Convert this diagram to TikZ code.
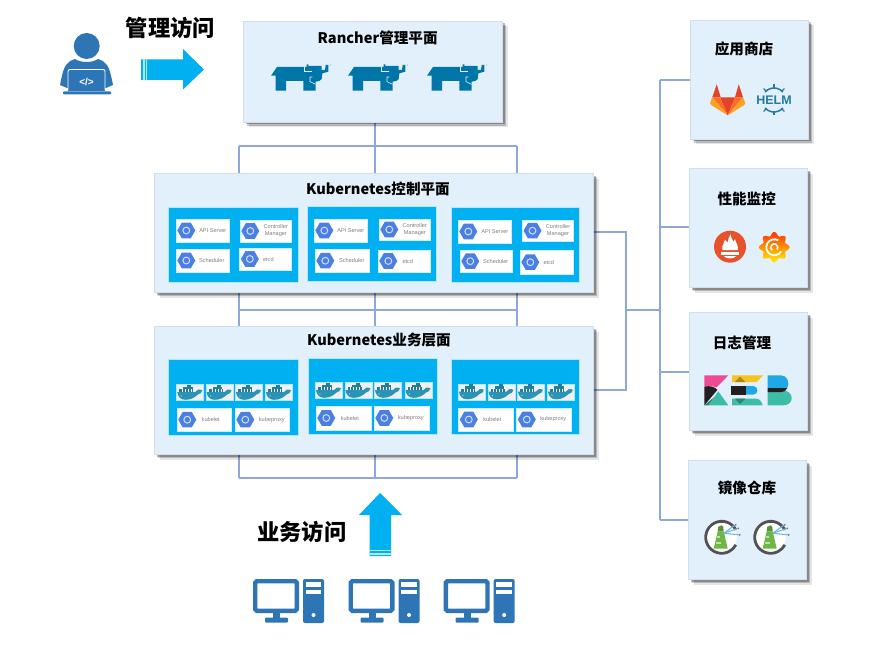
\documentclass[tikz,border=0pt]{standalone}
\usepackage{fontspec}
\setmainfont{Noto Sans CJK SC}
\newfontfamily\armo{Liberation Sans}
\usepackage{tikz}
\usetikzlibrary{shapes.geometric, shadows, backgrounds}
\definecolor{boxblue}{HTML}{E2F0FB}
\definecolor{boxedge}{HTML}{D0DEEF}
\definecolor{panelblue}{HTML}{00B0F0}
\definecolor{linkblue}{HTML}{8FA8DC}
\definecolor{iconblue}{HTML}{2E75B6}
\definecolor{hexblue}{HTML}{4A7FE3}
\definecolor{bullblue}{HTML}{0075A8}
\definecolor{whaleblue}{HTML}{2A93B6}
\definecolor{helmblue}{HTML}{277A9F}
\definecolor{keblue}{HTML}{1FA8E6}
\definecolor{keteal}{HTML}{3DBDA8}
\definecolor{kedark}{HTML}{231F20}
\definecolor{kepink}{HTML}{EE4A93}
\definecolor{keyellow}{HTML}{F6C41C}
\definecolor{glred}{HTML}{E24329}
\definecolor{glorange}{HTML}{FC6D26}
\definecolor{glyellow}{HTML}{FCA326}
\definecolor{promred}{HTML}{E6522C}
\definecolor{towergreen}{HTML}{6CB843}
\definecolor{beamblue}{HTML}{6BB9E8}
\tikzset{
    panelbox/.style={draw=boxedge, fill=boxblue, shape=rectangle, inner sep=0pt,
        drop shadow={shadow xshift=5.5pt, shadow yshift=-5.5pt, fill=black, opacity=.1},
        drop shadow={shadow xshift=4pt, shadow yshift=-4pt, fill=black, opacity=.2},
        drop shadow={shadow xshift=2.5pt, shadow yshift=-2.5pt, fill=black, opacity=.25}},
    boxtitle/.style={font=\bfseries\fontsize{14.6}{16}\selectfont, text=black, inner sep=0pt},
    bigtitle/.style={font=\bfseries\fontsize{22.3}{24}\selectfont, text=black, inner sep=0pt},
    cyanpanel/.style={draw=white!70!panelblue, line width=.4pt, fill=panelblue, shape=rectangle, inner sep=0pt, anchor=north west},
    card/.style={draw=white!80!panelblue, line width=.4pt, fill=white, shape=rectangle, inner sep=0pt},
    cardtext/.style={font=\armo\fontsize{5.6}{7}\selectfont, text=black!50, align=center, inner sep=0pt},
    hexicon/.style={shape=regular polygon, regular polygon sides=6, fill=hexblue, minimum size=18pt, inner sep=0pt,
        path picture={\draw[white!75!hexblue, line width=1pt] (path picture bounding box.center) circle (3.4);}},
    tile/.style={fill=black!6, draw=white!70!panelblue, line width=.3pt, shape=rectangle, inner sep=0pt, minimum width=27pt, minimum height=16pt, anchor=north west},
    link/.style={draw=linkblue, line width=1.2pt},
    pics/bull/.style={code={
        \begin{scope}[scale=1/3]
            \fill[bullblue] (18,62) -- (36,36) -- (125,36) -- (125,28) -- (130,28) -- (130,33) -- (170,33) -- (170,45) -- (180,45) -- (182,30) -- (190,30) -- (190,50) -- (172,55) -- (170,72) -- (163,78) -- (152,80) -- (152,107) -- (115,107) -- (115,78) -- (63,78) -- (63,107) -- (32,107) -- (32,62) -- cycle;
            \draw[boxblue, line width=.6pt] (119,36) -- (119,49) -- (140,49);
            \draw[boxblue, line width=.6pt] (142,66) -- (135,66) -- (135,80) -- (152,88);
            \fill[bullblue!50] (197,30) circle (2);
        \end{scope}}},
    pics/whale/.style={code={
        \fill[whaleblue] (1,8) -- (19,8) .. controls (20,5.5) and (23,5) .. (26,6.3) .. controls (25.5,9) and (23.5,10) .. (21.5,10.5) .. controls (18,14) and (14,15.8) .. (9,15.8) .. controls (4,15.8) and (1.5,12.5) .. (1,8) -- cycle;
        \fill[whaleblue!85!black] (3,5) rectangle (17,8.2);
        \fill[whaleblue!85!black] (7,2.6) rectangle (16.5,5.2);
        \fill[whaleblue!85!black] (11,.6) rectangle (15,2.8);
        \foreach \gx in {6,9,12,15} {\draw[black!6, line width=.2pt] (\gx,5) -- (\gx,8);}
        \fill[white!70!whaleblue] (5,12) circle (.6);}},
    pics/desktop/.style={code={
        \draw[iconblue, line width=4.4pt, fill=white, rounded corners=1.5pt] (2.2,2.2) rectangle (43.8,31.8);
        \fill[iconblue] (20,33) rectangle (27,40);
        \fill[iconblue, rounded corners=.8pt] (12,38.7) rectangle (35,43.5);
        \fill[iconblue, rounded corners=2pt] (50,0) rectangle (71,44);
        \fill[white] (52.7,3) rectangle (68,7.7);
        \fill[white] (52.7,11) rectangle (68,15.3);
        \fill[white] (60.5,36) circle (2);}},
    pics/harbor/.style={code={
        \fill[white] (0,0) circle (15);
        \fill[towergreen] (-4,-6) -- (2,-6) -- (6,11.3) -- (-8,11.3) -- cycle;
        \fill[towergreen!80!black] (-3.5,-10.5) -- (0,-12) -- (1.5,-10.5) -- (2,-6) -- (-4,-6) -- cycle;
        \fill[towergreen!45!white] (-4.5,-1.5) rectangle (-1.5,1);
        \fill[towergreen!45!white] (-5.5,5) rectangle (-1,7);
        \draw[black!68, line width=2.8pt] (-28:16) arc[start angle=-28, end angle=-332, radius=16];
        \draw[beamblue, line width=1.1pt] (2,-4) -- (13,-12);
        \draw[beamblue, line width=1.1pt] (2,-4) -- (15,-8.5);
        \draw[beamblue, line width=1.1pt] (2,-4) -- (17,-2.5);
        \fill[black!55] (14,-12.5) circle (1) (16.5,-9) circle (1) (18,-2.5) circle (1);}},
    pics/keb/.style={code={
        \begin{scope}[scale=1/3]
            \fill[kepink] (13,22) -- (85,22) -- (50,58) -- (35,54) -- (13,56) -- cycle;
            \fill[kedark] (13,56) .. controls (30,52) and (45,56) .. (52,66) -- (13,112) -- cycle;
            \fill[keteal] (25,112) -- (55,70) -- (85,112) -- cycle;
            \fill[keteal!70!black] (13,112) -- (25,112) -- (42,88) -- cycle;
            \fill[keyellow] (96,22) -- (190,22) -- (170,42) -- (96,42) -- cycle;
            \fill[keyellow!70!black] (105,42) -- (120,26) -- (136,42) -- cycle;
            \fill[keblue] (136,54) -- (160,54) .. controls (176,54) and (176,80) .. (160,80) -- (136,80) -- cycle;
            \fill[kedark] (92,54) rectangle (138,80);
            \fill[keteal] (96,92) -- (168,92) .. controls (180,92) and (186,104) .. (188,112) -- (96,112) -- cycle;
            \fill[keteal!70!black] (105,92) -- (136,92) -- (120,108) -- cycle;
            \fill[keblue] (203,22) -- (243,22) .. controls (262,22) and (270,44) .. (262,60) -- (203,60) -- cycle;
            \fill[keteal] (203,70) -- (250,66) .. controls (285,72) and (282,112) .. (250,112) -- (203,112) -- cycle;
            \fill[kedark] (203,60) -- (262,60) .. controls (258,68) and (252,72) .. (245,72) -- (203,72) -- cycle;
        \end{scope}}}
}
\begin{document}
\begin{tikzpicture}[x=1pt, y=-1pt]
    \useasboundingbox (0,0) rectangle (886,650);

    \node[panelbox, minimum width=259pt, minimum height=101pt] (rancher) at (372.5,71.5) {};
    \node[panelbox, minimum width=439pt, minimum height=119pt] (ctrl) at (373.5,232.5) {};
    \node[panelbox, minimum width=439pt, minimum height=128pt] (biz) at (373.5,390) {};
    \node[panelbox, minimum width=118pt, minimum height=119pt] (store) at (749,79.5) {};
    \node[panelbox, minimum width=118pt, minimum height=119pt] (monitor) at (748,227.5) {};
    \node[panelbox, minimum width=118pt, minimum height=118pt] (logging) at (748,371) {};
    \node[panelbox, minimum width=118pt, minimum height=119pt] (registry) at (747,519.5) {};

    \node[boxtitle] (rancher title) at (377.7,38) {Rancher管理平面};
    \node[boxtitle] (ctrl title) at (378,188.5) {Kubernetes控制平面};
    \node[boxtitle] (biz title) at (379,340.5) {Kubernetes业务层面};
    \node[boxtitle] (store title) at (744,49) {应用商店};
    \node[boxtitle] (monitor title) at (746.7,199) {性能监控};
    \node[boxtitle] (logging title) at (742,343) {日志管理};
    \node[boxtitle] (registry title) at (747,488) {镜像仓库};
    \node[bigtitle] (admin access) at (170.5,28) {管理访问};
    \node[bigtitle] (user access) at (301.7,531.5) {业务访问};

    \coordinate (t1) at (239,146);
    \coordinate (t2) at (375,146);
    \coordinate (t3) at (517,146);
    \coordinate (m1) at (239,310);
    \coordinate (m2) at (375,310);
    \coordinate (m3) at (517,310);
    \coordinate (b1) at (239,478);
    \coordinate (b2) at (375,478);
    \coordinate (b3) at (517,478);
    \coordinate (r1) at (626,232);
    \coordinate (r2) at (626,310);
    \coordinate (r3) at (626,390);
    \coordinate (s0) at (660,310);
    \coordinate (s1) at (660,80);
    \coordinate (s2) at (660,227);
    \coordinate (s3) at (660,372);
    \coordinate (s4) at (660,520);

    \begin{scope}[on background layer]
        \path[link] (rancher.south -| t2) -- (t2);
        \path[link] (t1) -- (t3);
        \foreach \nd in {t1,t2,t3} {\path[link] (\nd) -- (ctrl.north -| \nd);}
        \path[link] (m1) -- (m3);
        \foreach \nd in {m1,m2,m3} {\path[link] (ctrl.south -| \nd) -- (biz.north -| \nd);}
        \path[link] (b1) -- (b3);
        \foreach \nd in {b1,b2,b3} {\path[link] (biz.south -| \nd) -- (\nd);}
        \path[link] (ctrl.east |- r1) -- (r1) -- (r3) -- (biz.east |- r3);
        \path[link] (r2) -- (s0);
        \path[link] (s1) -- (s4);
        \path[link] (s1) -- (store.west |- s1);
        \path[link] (s2) -- (monitor.west |- s2);
        \path[link] (s3) -- (logging.west |- s3);
        \path[link] (s4) -- (registry.west |- s4);
    \end{scope}

    \foreach \nm/\px/\py/\pw/\ph in {ca/168/207/130/75, cb/307/206/129/75, cc/451/207/128/75, ba/168/359/130/76, bb/308/358/128.5/75.5, bc/451/358.7/128/75.3} {
        \node[cyanpanel, minimum width=\pw pt, minimum height=\ph pt] (\nm) at (\px,\py) {};
    }

    \foreach \nm/\cx/\cy/\w/\h/\dx/\txt in {
        ca1/202.5/230.5/53/23/37/API Server, ca2/265.5/231/51/22/36/{Controller\\Manager}, ca3/202.5/260.5/53/23/36/Scheduler, ca4/265.3/259/51.5/22/29/etcd,
        cb1/340.5/230.5/53/23/37/API Server, cb2/404.5/229.5/51/21/36/{Controller\\Manager}, cb3/342/260.7/54/23/37/Scheduler, cb4/404/261/52/22/30/etcd,
        cc1/484.5/231.5/53/23/37/API Server, cc2/547.7/230.7/51/21/36/{Controller\\Manager}, cc3/486.2/261.2/52.5/22.5/36/Scheduler, cc4/546.5/262.2/53/23.5/29/etcd,
        ba1/204.2/419.7/54.5/23.5/34/kubelet, ba2/262/419.7/54/23.5/37/kubeproxy,
        bb1/343.5/418/55/24/34/kubelet, bb2/401.5/418/55/24/37/kubeproxy,
        bc1/486/419.5/55/23/34/kubelet, bc2/544/419.5/55/23/37/kubeproxy} {
        \node[card, minimum width=\w pt, minimum height=\h pt] (\nm) at (\cx,\cy) {};
        \node[hexicon] (\nm icon) at ([xshift=10.5pt]\nm.west) {};
        \node[cardtext] (\nm text) at ([xshift=\dx pt]\nm.west) {\txt};
    }

    \foreach \tx/\ty [count=\i] in {176.3/384, 205.6/384, 235/384, 265/384, 315/382, 344.5/382, 374/382, 404.5/382, 458/383.5, 487.5/383.5, 517/383.5, 547/383.5} {
        \node[tile] (d\i) at (\tx,\ty) {};
        \pic at (d\i.north west) {whale};
    }

    \foreach \tx in {265,342,421} {\pic at (\tx,55) {bull};}
    \foreach \tx in {253,348.5,443.7} {\pic at (\tx,579) {desktop};}

    % person
    \fill[iconblue] (75,59) .. controls (66,62) and (64,66) .. (61,80) -- (60,85) -- (67,88) -- (106,88) -- (113,85) -- (112,80) .. controls (109,66) and (107,62) .. (98,59) .. controls (92,63) and (81,63) .. (75,59) -- cycle;
    \fill[iconblue] (86.7,46) circle (13);
    \fill[iconblue] (68,72) rectangle (105,91);
    \draw[white, line width=.9pt, rounded corners=2pt] (68,90) -- (68,69.5) -- (105,69.5) -- (105,90);
    \fill[iconblue, rounded corners=1pt] (63,91.5) rectangle (111,94.5);
    \node[font=\armo\bfseries\fontsize{10}{10}\selectfont, text=white, inner sep=0pt] (code) at (86.5,81.5) {</>};

    % big arrows
    \fill[panelblue] (141,59.5) -- (183,59.5) -- (183,49) -- (204,69.5) -- (183,89.5) -- (183,80) -- (141,80) -- cycle;
    \fill[white!70!panelblue] (143,59.5) rectangle (144.5,80);
    \fill[white!70!panelblue] (146,59.5) rectangle (147,80);
    \fill[panelblue] (380,493) -- (402,515) -- (391,515) -- (391,556) -- (369.5,556) -- (369.5,515) -- (359,515) -- cycle;
    \fill[white!70!panelblue] (369.5,549.5) rectangle (391,551);
    \fill[white!70!panelblue] (369.5,553) rectangle (391,554.5);

    % gitlab
    \fill[glred] (716.7,84.3) -- (712.3,97.3) -- (720.7,97.3) -- cycle;
    \fill[glred] (738.7,84.3) -- (743,97.3) -- (735,97.3) -- cycle;
    \fill[glred] (720,97.3) -- (735.3,97.3) -- (727.7,115.3) -- cycle;
    \fill[glorange] (712.3,97.3) -- (720,97.3) -- (727.7,115.3) -- cycle;
    \fill[glorange] (743,97.3) -- (735.3,97.3) -- (727.7,115.3) -- cycle;
    \fill[glyellow] (712.3,97.3) -- (710,103) -- (711,105) -- (727.7,115.3) -- cycle;
    \fill[glyellow] (743,97.3) -- (745.3,103) -- (744.3,105) -- (727.7,115.3) -- cycle;

    % helm
    \begin{scope}[shift={(774,100)}, draw=helmblue, line width=1.5pt]
        \draw (222:12) arc[start angle=222, end angle=318, radius=12];
        \draw (42:12) arc[start angle=42, end angle=138, radius=12];
        \foreach \ang in {228,270,312,48,90,132} {\draw[line width=1.2pt] (\ang:11) -- (\ang:15.5);}
        \node[font=\armo\bfseries\fontsize{12.5}{13}\selectfont, text=helmblue, inner sep=0pt] (helm) at (0,0) {HELM};
    \end{scope}

    % prometheus
    \begin{scope}[shift={(730,246.7)}]
        \fill[promred] (0,0) circle (16);
        \fill[white] (-7.5,3.5) .. controls (-9,-2) and (-5,-3) .. (-5,-7) .. controls (-3.5,-6) and (-3,-5) .. (-2.5,-4) .. controls (-2,-7) and (-1,-10) .. (0.5,-12.5) .. controls (1,-9) and (3,-6) .. (3.5,-5) .. controls (4,-6) and (5,-6.5) .. (5,-7.5) .. controls (6,-3) and (9,-1) .. (7.5,3.5) -- cycle;
        \fill[white] (-9.3,5) rectangle (9.3,7.8);
        \fill[white] (-6,9.5) .. controls (-4,12.5) and (4,12.5) .. (6,9.5) -- cycle;
    \end{scope}

    % grafana
    \begin{scope}[shift={(774.3,247.3)}]
        \shade[top color=red!60!orange, bottom color=yellow!90!orange] plot[domain=0:360, samples=91] ({(13.5+1.8*cos(8*\x))*cos(\x)},{(13.5+1.8*cos(8*\x))*sin(\x)}) -- cycle;
        \draw[white, line width=1.8pt] (30:8) arc[start angle=30, end angle=300, radius=8];
        \draw[white, line width=1.5pt] (120:3.5) arc[start angle=120, end angle=400, radius=3.5];
    \end{scope}

    \pic at (700,368) {keb};
    \pic at (721.7,537.3) {harbor};
    \pic at (770.7,537.3) {harbor};
\end{tikzpicture}
\end{document}
